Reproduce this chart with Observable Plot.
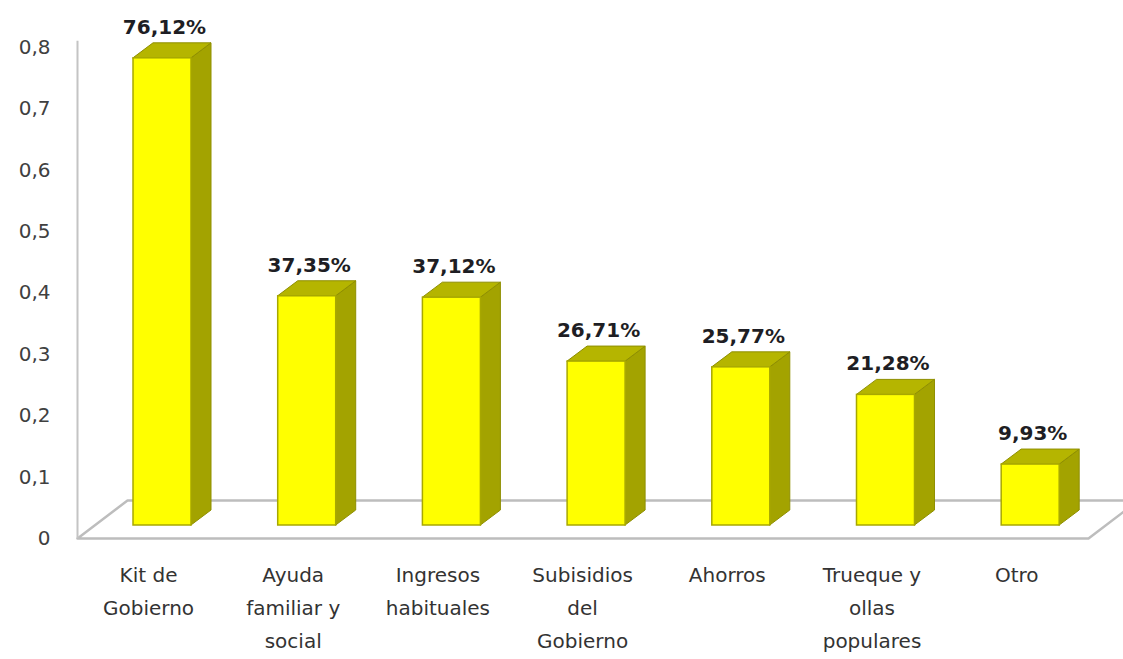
<!DOCTYPE html>
<html><head><meta charset="utf-8">
<script src="https://cdn.jsdelivr.net/npm/d3@7"></script>
<script src="https://cdn.jsdelivr.net/npm/@observablehq/plot@0.6"></script>
<style>
body{margin:0;background:#fff;}
</style>
</head><body><div id="chart"></div>
<script>
// ---- data ----
const categories = ["Kit de\nGobierno", "Ayuda\nfamiliar y\nsocial", "Ingresos\nhabituales", "Subisidios\ndel\nGobierno", "Ahorros", "Trueque y\nollas\npopulares", "Otro"];
const values = [0.7612, 0.3735, 0.3712, 0.2671, 0.2577, 0.2128, 0.0993];
const yTicks = [0, 0.1, 0.2, 0.3, 0.4, 0.5, 0.6, 0.7, 0.8];
const yTickLabels = ["0", "0,1", "0,2", "0,3", "0,4", "0,5", "0,6", "0,7", "0,8"];

// ---- layout ----
const W = 1123, H = 659;
const mL = 77, mR = 49.4, mT = 47, mB = 121;
const xDom = [-0.5875, 6.3], yDom = [0, 0.8];
const kx = (W - mL - mR) / (xDom[1] - xDom[0]); // px per category unit
const ky = (H - mT - mB) / (yDom[1] - yDom[0]); // px per value unit

const off = 13 / ky;     // bars sit behind the front plane
const hw = 29 / kx;      // half width of front face
const ddx = 20 / kx;     // depth offset x
const ddy = 15 / ky;     // depth offset y
const lblShift = 14 / kx;

const bars = values.map((v, i) => ({i, v, cat: categories[i]}));
const sideFaces = bars.flatMap(d => [
  {i: d.i, x: d.i + hw, y1: off, y2: d.v + off},
  {i: d.i, x: d.i + hw + ddx, y1: off + ddy, y2: d.v + off + ddy}
]);
const topFaces = bars.flatMap(d => [
  {i: d.i, y: d.v + off, x1: d.i - hw, x2: d.i + hw},
  {i: d.i, y: d.v + off + ddy, x1: d.i - hw + ddx, x2: d.i + hw + ddx}
]);

// floor parallelogram
const fDepthX = 50 / kx, fDepthY = 38 / ky;
const fRight = (1088 - mL) / kx + xDom[0];
const floorPts = [
  {x: xDom[0], y: 0},
  {x: fRight, y: 0},
  {x: fRight + fDepthX, y: fDepthY},
  {x: xDom[0] + fDepthX, y: fDepthY},
  {x: xDom[0], y: 0}
];

const fmt = v => (v * 100).toFixed(2).replace(".", ",") + "%";

const chart = Plot.plot({
  width: W, height: H,
  marginLeft: mL, marginRight: mR, marginTop: mT, marginBottom: mB,
  style: {fontFamily: "DejaVu Sans", fontSize: "20px", color: "#404040", background: "white", overflow: "visible"},
  x: {domain: xDom, axis: null},
  y: {domain: yDom, ticks: yTicks, tickFormat: d => yTickLabels[yTicks.indexOf(d)], tickSize: 0, tickPadding: 27, label: null},
  marks: [
    Plot.line(floorPts, {x: "x", y: "y", stroke: "#bdbdbd", strokeWidth: 2.5, fill: "white"}),
    Plot.ruleX([xDom[0]], {y1: 0, y2: 0.81, stroke: "#c4c4c4", strokeWidth: 2}),
    Plot.areaY(sideFaces, {x: "x", y1: "y1", y2: "y2", z: "i", fill: "#a3a300", stroke: "#8f8f00", strokeWidth: 1}),
    Plot.areaX(topFaces, {y: "y", x1: "x1", x2: "x2", z: "i", fill: "#b5b500", stroke: "#8f8f00", strokeWidth: 1}),
    Plot.rect(bars, {x1: d => d.i - hw, x2: d => d.i + hw, y1: off, y2: d => d.v + off, fill: "#ffff00", stroke: "#a8a800", strokeWidth: 1.5}),
    Plot.text(bars, {x: d => d.i + 2 / kx, y: d => d.v + off, text: d => fmt(d.v), dy: -31, lineAnchor: "middle", fontWeight: "bold", fontSize: 20, fill: "#1e1e24"}),
    Plot.text(bars, {x: d => d.i - lblShift, y: 0, text: "cat", dy: 20, lineAnchor: "top", lineHeight: 1.66, fontSize: 20, fill: "#333333"})
  ]
});
document.getElementById("chart").appendChild(chart);
</script>
</body></html>
